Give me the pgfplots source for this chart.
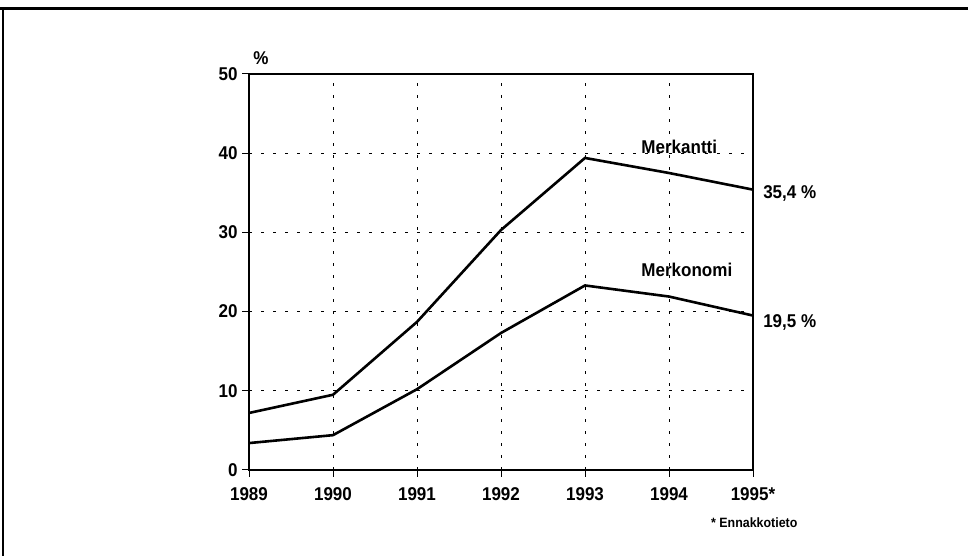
\documentclass[border=0pt]{standalone}
\usepackage{pgfplots}
\pgfplotsset{compat=1.18}
\usepackage{fontspec}
\setmainfont{Liberation Sans}[FakeStretch=0.92, UprightFont=*-Bold]
\begin{document}
\begin{tikzpicture}
\useasboundingbox (-249pt,-86pt) rectangle (719pt,470pt);
\draw[line width=3pt] (-249pt,461pt) -- (719pt,461pt);
\draw[line width=2pt] (-246pt,462pt) -- (-246pt,-86pt);
\begin{axis}[
  at={(0pt,0pt)}, anchor=south west,
  scale only axis, width=504pt, height=396pt,
  xmin=1989, xmax=1995, ymin=0, ymax=50,
  xtick={1989,1990,1991,1992,1993,1994,1995},
  xticklabels={1989,1990,1991,1992,1993,1994,1995*},
  ytick={0,10,20,30,40,50},
  /pgf/number format/assume math mode=true,
  tick pos=left,
  tick align=outside,
  major tick length=7pt,
  tick style={black, line width=1pt},
  axis line style={line width=1.4pt},
  grid=major,
  major grid style={black, line width=0.8pt, dash pattern=on 3pt off 9pt},
  ticklabel style={font=\fontsize{18.5}{20}\selectfont},
  xticklabel style={yshift=-7pt},
  yticklabel style={xshift=-1pt},
  clip=false,
  every node/.style={inner sep=0pt},
]
\addplot[black, line width=2.6pt, sharp plot, mark=none] coordinates {
 (1989,7.2) (1990,9.5) (1991,18.7) (1992,30.3) (1993,39.4) (1994,37.5) (1995,35.4)};
\addplot[black, line width=2.6pt, sharp plot, mark=none] coordinates {
 (1989,3.4) (1990,4.4) (1991,10.2) (1992,17.3) (1993,23.3) (1994,21.9) (1995,19.5)};
\node[anchor=base west, font=\fontsize{18.5}{20}\selectfont] at (axis cs:1993.63,39.9) {Merkantti};
\node[anchor=base west, font=\fontsize{18.5}{20}\selectfont] at (axis cs:1993.63,24.4) {Merkonomi};
\node[anchor=base west, font=\fontsize{18.5}{20}\selectfont] at (axis cs:1995.08,34.3) {35,4 \%};
\node[anchor=base west, font=\fontsize{18.5}{20}\selectfont] at (axis cs:1995.08,18.05) {19,5 \%};
\node[anchor=base west, font=\fontsize{18.5}{20}\selectfont] at (axis cs:1989.01,51.26) {\%};
\node[anchor=base west, font=\fontsize{13.5}{15}\selectfont] at (axis cs:1994.46,-7.2) {* Ennakkotieto};
\end{axis}
\end{tikzpicture}
\end{document}
